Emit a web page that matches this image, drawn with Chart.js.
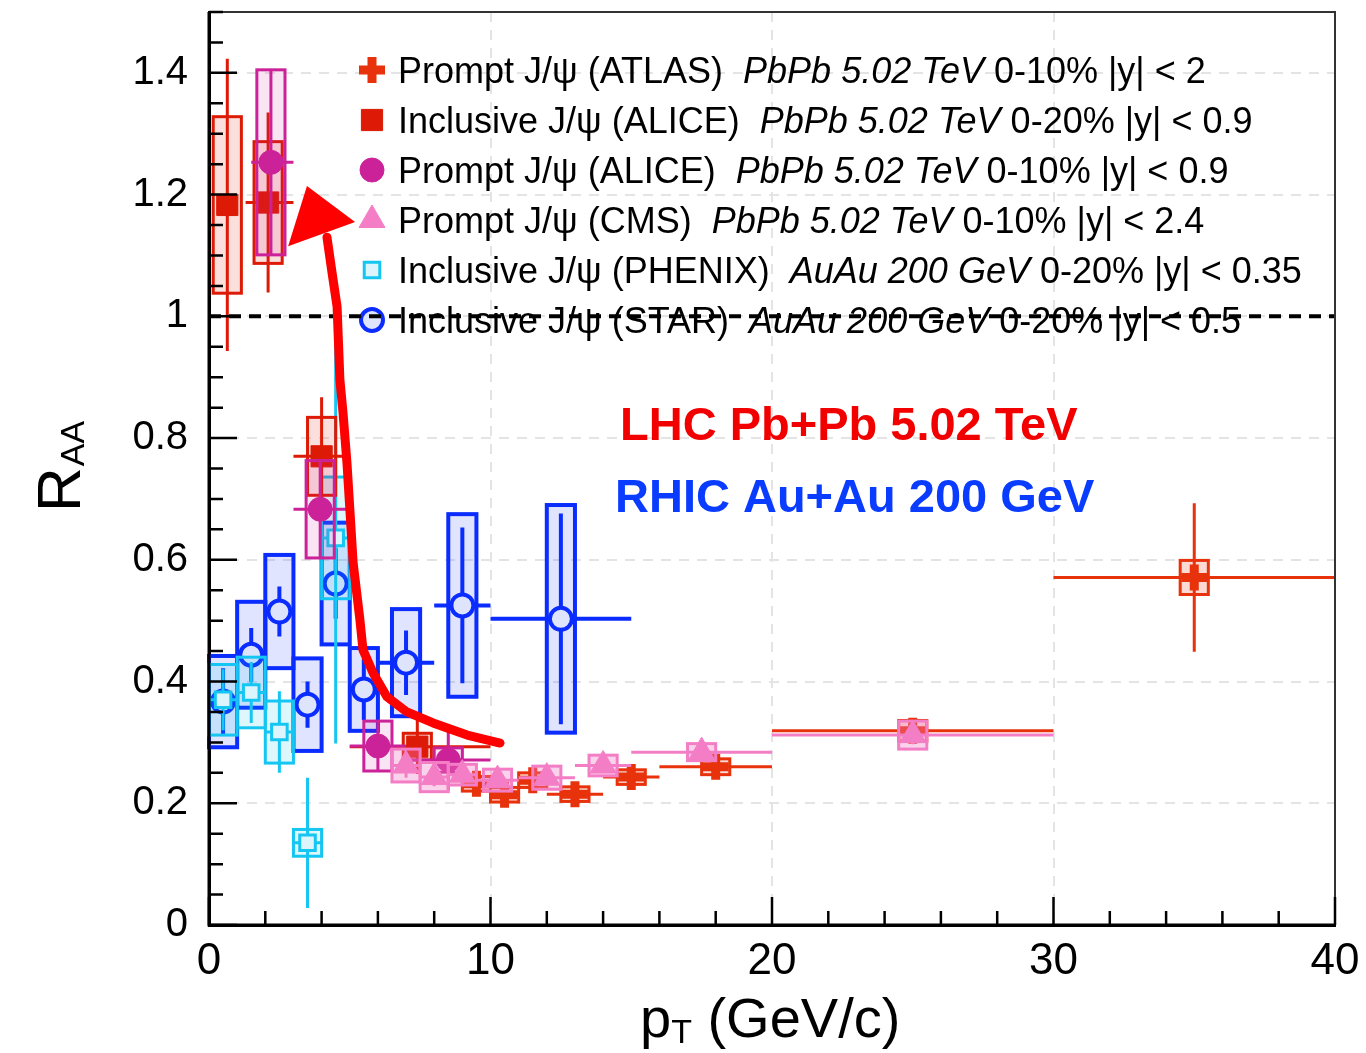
<!DOCTYPE html>
<html>
<head>
<meta charset="utf-8">
<script src="https://cdn.jsdelivr.net/npm/chart.js@4.4.1/dist/chart.umd.min.js"></script>
<style>
  html, body { margin: 0; padding: 0; background: #fff; }
</style>
</head>
<body>
<canvas id="myChart" width="1366" height="1053"></canvas>
<script>
// ---- data (pT in GeV/c, R_AA) ----

// Prompt J/psi ATLAS, PbPb 5.02 TeV 0-10%
var atlasPt    = [9.5, 10.5, 11.5, 13, 15, 18, 25, 35];
var atlasPtLo  = [9, 10, 11, 12, 14, 16, 20, 30];
var atlasPtHi  = [10, 11, 12, 14, 16, 20, 30, 40];
var atlasRaa   = [0.232, 0.214, 0.238, 0.215, 0.243, 0.260, 0.319, 0.571];
var atlasStat  = [0.012, 0.010, 0.010, 0.012, 0.012, 0.012, 0.015, 0.122];
var atlasSys   = [0.012, 0.012, 0.012, 0.012, 0.012, 0.013, 0.017, 0.028];

// Inclusive J/psi ALICE, PbPb 5.02 TeV 0-20%
var aliIncPt   = [0.65, 2.1, 4.0, 7.4];
var aliIncPtLo = [0.3, 1.3, 3, 5];
var aliIncPtHi = [1, 3, 5, 10];
var aliIncRaa  = [1.183, 1.187, 0.770, 0.293];
var aliIncStat = [0.240, 0.148, 0.097, 0.045];
var aliIncSys  = [0.145, 0.100, 0.064, 0.022];

// Prompt J/psi ALICE, PbPb 5.02 TeV 0-10%
var aliPrPt    = [2.2, 3.95, 6, 8.5];
var aliPrPtLo  = [1.5, 3, 5, 7];
var aliPrPtHi  = [3, 5, 7, 10];
var aliPrRaa   = [1.253, 0.683, 0.294, 0.271];
var aliPrStat  = [0.152, 0.080, 0.040, 0.050];
var aliPrSys   = [0.152, 0.080, 0.041, 0.020];

// Prompt J/psi CMS, PbPb 5.02 TeV 0-10%
var cmsPt      = [7, 8, 9, 10.25, 12, 14, 17.5, 25];
var cmsPtLo    = [6.5, 7.5, 8.5, 9.5, 11, 13, 15, 20];
var cmsPtHi    = [7.5, 8.5, 9.5, 11, 13, 15, 20, 30];
var cmsRaa     = [0.262, 0.243, 0.247, 0.238, 0.242, 0.262, 0.284, 0.312];
var cmsStat    = [0.020, 0.015, 0.015, 0.012, 0.012, 0.012, 0.012, 0.015];
var cmsSys     = [0.027, 0.024, 0.017, 0.018, 0.019, 0.017, 0.014, 0.023];

// Inclusive J/psi PHENIX, AuAu 200 GeV 0-20%
var phxPt      = [0.5, 1.5, 2.5, 3.5, 4.5];
var phxPtLo    = [0, 1, 2, 3, 4];
var phxPtHi    = [1, 2, 3, 4, 5];
var phxRaa     = [0.370, 0.382, 0.317, 0.135, 0.636];
var phxStat    = [0.050, 0.050, 0.067, 0.107, 0.338];
var phxSys     = [0.058, 0.058, 0.051, 0.022, 0.100];

// Inclusive J/psi STAR, AuAu 200 GeV 0-20%
var starPt     = [0.5, 1.5, 2.5, 3.5, 4.5, 5.5, 7, 9, 12.5];
var starPtLo   = [0, 1, 2, 3, 4, 5, 6, 8, 10];
var starPtHi   = [1, 2, 3, 4, 5, 6, 8, 10, 15];
var starRaa    = [0.367, 0.444, 0.515, 0.362, 0.561, 0.387, 0.431, 0.525, 0.503];
var starStat   = [0.055, 0.044, 0.041, 0.038, 0.058, 0.050, 0.053, 0.128, 0.173];
var starSys    = [0.075, 0.087, 0.093, 0.076, 0.100, 0.068, 0.088, 0.150, 0.187];

// R_AA = 1 reference line
var unityPt  = [0, 40];
var unityRaa = [1, 1];

// hand drawn arrow, in (pT, R_AA)
var arrowPath = [[10.34, 0.299], [9.17, 0.312], [7.96, 0.332], [7.03, 0.350], [6.32, 0.375],
                 [5.83, 0.414], [5.47, 0.452], [5.36, 0.502], [5.12, 0.595], [5.01, 0.678],
                 [4.90, 0.760], [4.76, 0.842], [4.65, 0.896], [4.55, 1.016], [4.37, 1.072], [4.19, 1.130]];
var arrowHead = [[3.48, 1.214], [2.81, 1.115], [5.19, 1.155]];

var FONT = '"Liberation Sans", Arial, Helvetica, sans-serif';
Chart.defaults.font.family = FONT;

// series: top-most first (Chart.js draws dataset 0 last)
var series = [
  { label: 'Prompt J/ψ (CMS)', sys: 'PbPb 5.02 TeV', cut: '0-10% |y| < 2.4',
    pt: cmsPt, lo: cmsPtLo, hi: cmsPtHi, raa: cmsRaa, stat: cmsStat, syst: cmsSys,
    color: '#f47ec6', fill: 'rgba(244,126,198,0.35)', style: 'triangle', r: 15, bw: 1, bg: '#f47ec6', lw: 3, legendRow: 3 },
  { label: 'Prompt J/ψ (ATLAS)', sys: 'PbPb 5.02 TeV', cut: '0-10% |y| < 2',
    pt: atlasPt, lo: atlasPtLo, hi: atlasPtHi, raa: atlasRaa, stat: atlasStat, syst: atlasSys,
    color: '#e8320c', fill: 'rgba(232,50,12,0.18)', style: 'cross', r: 13, bw: 9, bg: '#e8320c', lw: 3, legendRow: 0 },
  { label: 'Prompt J/ψ (ALICE)', sys: 'PbPb 5.02 TeV', cut: '0-10% |y| < 0.9',
    pt: aliPrPt, lo: aliPrPtLo, hi: aliPrPtHi, raa: aliPrRaa, stat: aliPrStat, syst: aliPrSys,
    color: '#cc2299', fill: 'rgba(204,34,153,0.12)', style: 'circle', r: 12, bw: 1, bg: '#cc2299', lw: 3, legendRow: 2 },
  { label: 'Inclusive J/ψ (ALICE)', sys: 'PbPb 5.02 TeV', cut: '0-20% |y| < 0.9',
    pt: aliIncPt, lo: aliIncPtLo, hi: aliIncPtHi, raa: aliIncRaa, stat: aliIncStat, syst: aliIncSys,
    color: '#dd1a05', fill: 'rgba(221,30,10,0.14)', style: 'rect', r: 15, bw: 1, bg: '#dd1a05', lw: 3, legendRow: 1 },
  { label: 'Inclusive J/ψ (PHENIX)', sys: 'AuAu 200 GeV', cut: '0-20% |y| < 0.35',
    pt: phxPt, lo: phxPtLo, hi: phxPtHi, raa: phxRaa, stat: phxStat, syst: phxSys,
    color: '#16c6f2', fill: 'rgba(22,198,242,0.14)', style: 'rect', r: 11, bw: 3, bg: '#dcf5fd', lw: 3, legendRow: 4 },
  { label: 'Inclusive J/ψ (STAR)', sys: 'AuAu 200 GeV', cut: '0-20% |y| < 0.5',
    pt: starPt, lo: starPtLo, hi: starPtHi, raa: starRaa, stat: starStat, syst: starSys,
    color: '#0a2cff', fill: 'rgba(20,50,255,0.13)', style: 'circle', r: 11, bw: 4, bg: '#dfe4fd', lw: 4, legendRow: 5 }
];
var BOX_HALF = 0.5;   // width of systematic boxes, GeV/c

var datasets = [{
  type: 'line', label: 'unity',
  data: unityPt.map(function (x, i) { return { x: x, y: unityRaa[i] }; }),
  borderColor: '#000', borderWidth: 4, borderDash: [12, 8], pointRadius: 0, fill: false
}];
series.forEach(function (s) {
  datasets.push({
    type: 'scatter', label: s.label,
    data: s.pt.map(function (x, i) { return { x: x, y: s.raa[i] }; }),
    pointStyle: s.style, pointRadius: s.r, pointHoverRadius: s.r,
    pointBorderWidth: s.bw, backgroundColor: s.bg, borderColor: s.color
  });
});

// boxes and error bars, drawn just under each dataset's markers
var errorBars = {
  id: 'errorBars',
  beforeDatasetDraw: function (chart, args) {
    var s = series[args.index - 1];
    if (!s) return;
    var xs = chart.scales.x, ys = chart.scales.y, ctx = chart.ctx;
    ctx.save();
    ctx.lineWidth = s.lw;
    ctx.strokeStyle = s.color;
    ctx.fillStyle = s.fill;
    s.pt.forEach(function (x, i) {
      var y = s.raa[i];
      var bx0 = xs.getPixelForValue(x - BOX_HALF), bx1 = xs.getPixelForValue(x + BOX_HALF);
      var by0 = ys.getPixelForValue(y + s.syst[i]), by1 = ys.getPixelForValue(y - s.syst[i]);
      ctx.fillRect(bx0, by0, bx1 - bx0, by1 - by0);
      ctx.strokeRect(bx0, by0, bx1 - bx0, by1 - by0);
    });
    s.pt.forEach(function (x, i) {
      var y = s.raa[i];
      var px = xs.getPixelForValue(x), py = ys.getPixelForValue(y);
      ctx.beginPath();
      ctx.moveTo(xs.getPixelForValue(s.lo[i]), py);
      ctx.lineTo(xs.getPixelForValue(s.hi[i]), py);
      ctx.moveTo(px, ys.getPixelForValue(y + s.stat[i]));
      ctx.lineTo(px, ys.getPixelForValue(y - s.stat[i]));
      ctx.stroke();
    });
    ctx.restore();
  }
};

function drawRich(ctx, parts, x, y) {
  parts.forEach(function (p) {
    ctx.font = p[1];
    ctx.fillText(p[0], x, y);
    x += ctx.measureText(p[0]).width;
  });
}

var decorations = {
  id: 'decorations',
  beforeDatasetsDraw: function (chart) {
    var ctx = chart.ctx, a = chart.chartArea;
    ctx.save();
    // legend
    var lx = a.left + 163, ly = a.top + 58, step = 50;
    series.forEach(function (s) {
      var cy = ly + s.legendRow * step;
      ctx.fillStyle = s.bg; ctx.strokeStyle = s.color; ctx.lineWidth = s.bw;
      Chart.helpers.drawPoint(ctx, { pointStyle: s.style, radius: s.r, rotation: 0, borderWidth: s.bw }, lx, cy);
      ctx.fillStyle = '#000';
      ctx.textBaseline = 'alphabetic';
      drawRich(ctx, [[s.label + '  ', '36px ' + FONT],
                     [s.sys + ' ', 'italic 36px ' + FONT],
                     [s.cut, '36px ' + FONT]], lx + 26, cy + 13);
    });
    // collision system labels
    ctx.font = 'bold 47px ' + FONT;
    ctx.fillStyle = '#f20000';
    ctx.fillText('LHC Pb+Pb 5.02 TeV', a.left + 411, a.top + 428);
    ctx.fillStyle = '#0a3cff';
    ctx.fillText('RHIC Au+Au 200 GeV', a.left + 406, a.top + 500);
    ctx.restore();
  },
  afterDraw: function (chart) {
    var ctx = chart.ctx, a = chart.chartArea, xs = chart.scales.x, ys = chart.scales.y;
    ctx.save();
    // frame
    ctx.strokeStyle = '#333'; ctx.lineWidth = 2;
    ctx.beginPath();
    ctx.moveTo(a.left, a.top); ctx.lineTo(a.right, a.top); ctx.lineTo(a.right, a.bottom);
    ctx.stroke();
    ctx.strokeStyle = '#000'; ctx.lineWidth = 3;
    ctx.beginPath();
    ctx.moveTo(a.left, a.top); ctx.lineTo(a.left, a.bottom); ctx.lineTo(a.right, a.bottom);
    ctx.stroke();
    // inward ticks
    ctx.lineWidth = 2.5;
    ctx.beginPath();
    for (var v = 0; v <= 1.5001; v += 0.05) {
      var py = ys.getPixelForValue(v);
      var major = Math.abs(v / 0.2 - Math.round(v / 0.2)) < 1e-6;
      ctx.moveTo(a.left, py); ctx.lineTo(a.left + (major ? 28 : 14), py);
    }
    for (var u = 0; u <= 40.001; u += 2) {
      var px = xs.getPixelForValue(u);
      ctx.moveTo(px, a.bottom); ctx.lineTo(px, a.bottom - (u % 10 === 0 ? 28 : 14));
    }
    ctx.stroke();
    // axis titles
    ctx.fillStyle = '#000';
    ctx.textBaseline = 'alphabetic';
    ctx.save();
    ctx.translate(80, 512);
    ctx.rotate(-Math.PI / 2);
    ctx.font = '62px ' + FONT;
    ctx.fillText('R', 0, 0);
    var rw = ctx.measureText('R').width;
    ctx.font = '34px ' + FONT;
    ctx.fillText('AA', rw + 1, 4);
    ctx.restore();
    var tx = 640, tb = 1037;
    ctx.font = '56px ' + FONT;
    ctx.fillText('p', tx, tb);
    tx += ctx.measureText('p').width;
    ctx.font = '34px ' + FONT;
    ctx.fillText('T', tx, tb + 6);
    tx += ctx.measureText('T').width;
    ctx.font = '56px ' + FONT;
    ctx.fillText(' (GeV/c)', tx, tb);
    // hand drawn arrow
    ctx.strokeStyle = '#ff0000'; ctx.fillStyle = '#ff0000';
    ctx.lineWidth = 9; ctx.lineCap = 'round'; ctx.lineJoin = 'round';
    ctx.beginPath();
    arrowPath.forEach(function (p, i) {
      var X = xs.getPixelForValue(p[0]), Y = ys.getPixelForValue(p[1]);
      if (i === 0) ctx.moveTo(X, Y); else ctx.lineTo(X, Y);
    });
    ctx.stroke();
    ctx.beginPath();
    arrowHead.forEach(function (p, i) {
      var X = xs.getPixelForValue(p[0]), Y = ys.getPixelForValue(p[1]);
      if (i === 0) ctx.moveTo(X, Y); else ctx.lineTo(X, Y);
    });
    ctx.closePath();
    ctx.fill();
    ctx.restore();
  }
};

var myChart = document.getElementById('myChart');
var chart = new Chart(myChart.getContext('2d'), {
  type: 'scatter',
  data: { datasets: datasets },
  options: {
    responsive: false,
    animation: false,
    devicePixelRatio: 1,
    layout: { autoPadding: false, padding: { top: 12, right: 31, left: 0, bottom: 0 } },
    plugins: { legend: { display: false }, tooltip: { enabled: false } },
    scales: {
      x: {
        type: 'linear', min: 0, max: 40,
        ticks: { stepSize: 10, includeBounds: false, color: '#000', font: { size: 44 }, padding: 10, maxRotation: 0 },
        grid: { color: '#e4e4e4', lineWidth: 2, drawTicks: false },
        border: { color: '#000', width: 3, dash: [10, 8] },
        afterFit: function (s) { s.height = 128; s.paddingLeft = 0; s.paddingRight = 0; }
      },
      y: {
        type: 'linear', min: 0, max: 1.5,
        ticks: { stepSize: 0.2, includeBounds: false, color: '#000', font: { size: 40 }, padding: 21,
                 callback: function (v) { return String(+v.toFixed(2)); } },
        grid: { color: '#e4e4e4', lineWidth: 2, drawTicks: false },
        border: { color: '#000', width: 3, dash: [10, 8] },
        afterFit: function (s) { s.width = 209; s.paddingTop = 0; s.paddingBottom = 0; }
      }
    }
  },
  plugins: [errorBars, decorations]
});
</script>
</body>
</html>
